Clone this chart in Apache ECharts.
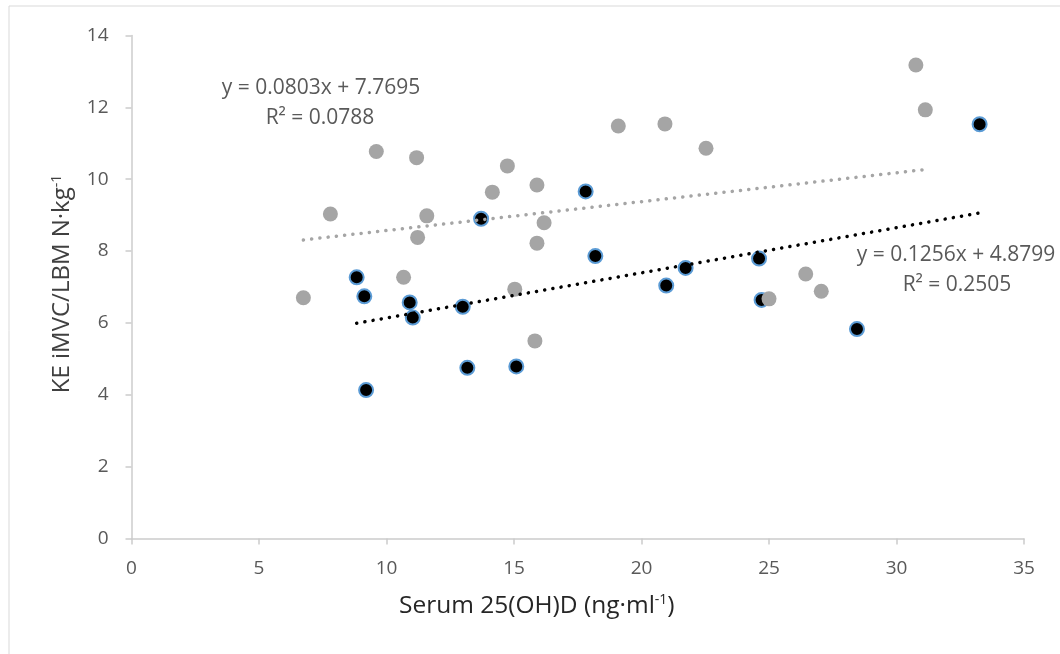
<!DOCTYPE html>
<html>
<head>
<meta charset="utf-8">
<script src="https://cdn.jsdelivr.net/npm/echarts@6/dist/echarts.min.js"></script>
<style>
  html, body { margin: 0; padding: 0; background: #fff; }
  #chart { width: 1060px; height: 654px; }
</style>
</head>
<body>
<div id="chart"></div>
<script>
  // 数据：黑点组 (x = serum 25(OH)D, y = KE iMVC/LBM)
  var blackPts = [
    [17.81, 9.66], [13.71, 8.90], [18.19, 7.86], [8.83, 7.27], [9.13, 6.74],
    [10.91, 6.57], [11.03, 6.15], [12.99, 6.45], [13.17, 4.75], [15.09, 4.79],
    [9.20, 4.13], [33.26, 11.53], [24.61, 7.79], [21.73, 7.53], [20.97, 7.04],
    [24.71, 6.64], [28.45, 5.83]
  ]
  // 灰点组
  var grayPts = [
    [9.60, 10.77], [11.18, 10.60], [14.74, 10.37], [14.15, 9.64], [15.90, 9.84],
    [7.80, 9.03], [11.58, 8.98], [11.22, 8.38], [16.18, 8.79], [15.90, 8.22],
    [10.67, 7.27], [6.74, 6.70], [15.03, 6.94], [15.82, 5.50], [30.76, 13.18],
    [31.13, 11.93], [19.09, 11.48], [20.92, 11.54], [22.53, 10.86], [26.44, 7.36],
    [27.05, 6.88], [25.00, 6.67]
  ]
  // 趋势线端点
  var blackTrend = [[8.83, 5.99], [33.26, 9.06]]
  var grayTrend = [[6.74, 8.31], [31.13, 10.27]]
  var xTicks = [0, 35, 5]
  var yTicks = [0, 14, 2]
  var grayEq = ['y = 0.0803x + 7.7695', 'R² = 0.0788']
  var blackEq = ['y = 0.1256x + 4.8799', 'R² = 0.2505']

  var font = 'Open Sans'
  var textColor = '#595959'
  var xNameColor = '#262626'
  var yNameColor = '#404040'
  var axisColor = '#CCCCCC'

  let myChart = echarts.init(document.getElementById('chart'))

  var supStyle = function(c) {
    return { fontSize: 14, verticalAlign: 'top', color: c, fontFamily: font, padding: [0, 0, 10, 0] }
  }

  var axisCommon = {
    type: 'value',
    splitLine: { show: false },
    axisLine: { show: true, lineStyle: { color: axisColor, width: 1.5 } },
    axisTick: { show: true, length: 6, lineStyle: { color: axisColor, width: 1.5 } },
    axisLabel: { color: textColor, fontSize: 19, fontFamily: font },
    nameLocation: 'middle'
  }

  var eqText = function(x, y, s) {
    return { type: 'text', x: x, y: y, style: { text: s, fill: textColor, font: '21px "Open Sans"', align: 'center', verticalAlign: 'middle' } }
  }

  var option = {
    animation: false,
    grid: { left: 131.5, right: 36, top: 35.5, bottom: 115.5 },
    xAxis: Object.assign({}, axisCommon, {
      min: xTicks[0], max: xTicks[1], interval: xTicks[2],
      axisLabel: Object.assign({}, axisCommon.axisLabel, { margin: 21 }),
      name: 'Serum 25(OH)D (ng·ml{sup|-1})',
      nameGap: 55,
      nameTextStyle: { color: xNameColor, fontSize: 24.5, fontFamily: font, padding: [0, 82, 0, 0], rich: { sup: supStyle(xNameColor) } }
    }),
    yAxis: Object.assign({}, axisCommon, {
      min: yTicks[0], max: yTicks[1], interval: yTicks[2],
      axisLabel: Object.assign({}, axisCommon.axisLabel, { margin: 23 }),
      name: 'KE iMVC/LBM N·kg{sup|-1}',
      nameGap: 57,
      nameTextStyle: { color: yNameColor, fontSize: 24, fontFamily: font, padding: [0, 0, 0, 6], rich: { sup: supStyle(yNameColor) } }
    }),
    graphic: [
      { type: 'rect', shape: { x: 9, y: 6, width: 1200, height: 800 }, style: { fill: 'none', stroke: '#D9D9D9', lineWidth: 1 }, silent: true },
      eqText(321, 88, grayEq[0]),
      eqText(320, 118, grayEq[1]),
      eqText(956, 255, blackEq[0]),
      eqText(957, 285, blackEq[1])
    ],
    series: [
      {
        type: 'scatter',
        data: blackPts,
        symbolSize: 14,
        itemStyle: { color: '#000', borderColor: '#5B9BD5', borderWidth: 2, opacity: 1 },
        z: 2
      },
      {
        type: 'scatter',
        data: grayPts,
        symbolSize: 15,
        itemStyle: { color: '#A5A5A5', opacity: 1 },
        z: 3
      },
      {
        type: 'line',
        data: grayTrend,
        symbol: 'none',
        lineStyle: { color: '#A5A5A5', width: 3.5, type: [0.1, 8.2], cap: 'round' },
        z: 4
      },
      {
        type: 'line',
        data: blackTrend,
        symbol: 'none',
        lineStyle: { color: '#000', width: 3.5, type: [0.1, 8.2], cap: 'round' },
        z: 4
      }
    ]
  }

  myChart.setOption(option)
</script>
</body>
</html>
